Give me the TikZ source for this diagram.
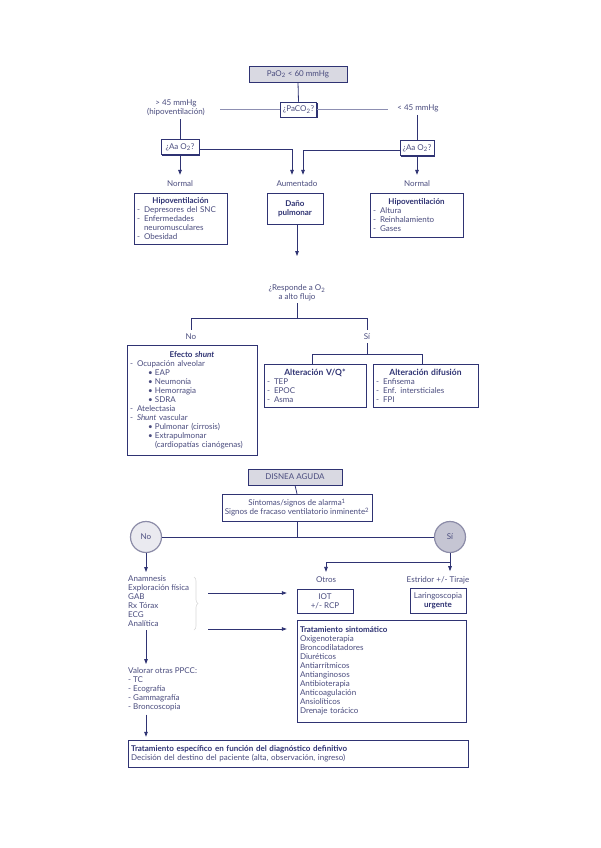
\documentclass[tikz,border=0pt]{standalone}
\usepackage{fontspec}
\setmainfont{Lato}
\usetikzlibrary{arrows.meta,shadows,decorations.pathreplacing}
\definecolor{navy}{HTML}{2F3373}
\definecolor{txt}{HTML}{4A4C7E}
\definecolor{boxgray}{HTML}{D9D9E2}
\definecolor{ring}{HTML}{8C8CA8}
\definecolor{circlight}{HTML}{EAEAF0}
\definecolor{circdark}{HTML}{C5C5D3}
\newcommand\hd[1]{{\bfseries\color{navy}#1}}
\newcommand\ctr[2]{\makebox[#1][c]{#2}}
\newcommand\di{\makebox[7pt][l]{-}}
\newcommand\dic{\hspace*{7pt}}
\newcommand\bu{\hspace*{18pt}\makebox[7pt][l]{\textbullet}}
\newcommand\buc{\hspace*{25pt}}
\begin{document}
\begin{tikzpicture}[x=1pt,y=-1pt,
  every node/.style={font=\fontsize{8}{9}\selectfont, text=txt, inner sep=0pt},
  box/.style={draw=navy, line width=0.5pt, fill=white, inner sep=3pt,
    drop shadow={shadow xshift=1.3pt, shadow yshift=-1.3pt, opacity=1, fill=navy}},
  ln/.style={draw=navy, line width=0.8pt},
  thin/.style={draw=navy!55, line width=0.5pt},
  arr/.style={ln, -{Triangle[length=5pt,width=3.6pt]}},
  circ/.style={circle, draw=ring, line width=1.2pt, minimum size=31pt}
]
\useasboundingbox (0,0) rectangle (600,848);
\fill[white] (0,0) rectangle (600,848);

% ---------- top algorithm ----------
\node[box, fill=boxgray, minimum width=98pt, minimum height=16pt] (pao2) at (298,74) {PaO\textsubscript{2} < 60 mmHg};
\node[box, minimum width=36pt, minimum height=15pt, inner sep=1pt] (paco2) at (298.5,109.5) {¿PaCO\textsubscript{2}?};
\node[align=center] (gt) at (176,108) {> 45 mmHg\\(hipoventilación)};
\node (lt) at (418,108) {< 45 mmHg};
\node[box, minimum width=38pt, minimum height=15pt, inner sep=1pt] (aaL) at (180,147) {¿Aa O\textsubscript{2}?};
\node[box, minimum width=34pt, minimum height=15pt, inner sep=1pt] (aaR) at (417,148) {¿Aa O\textsubscript{2}?};
\node (nL) at (180,184) {Normal};
\node (aum) at (297,184) {Aumentado};
\node (nR) at (417,184) {Normal};

\coordinate (hl) at (220,109.5);
\coordinate (hr) at (388,109.5);
\draw[ln] (pao2.south) -- (paco2.north);
\draw[thin] (paco2.west) -- (hl);
\draw[thin] (paco2.east) -- (hr);
\draw[ln, shorten <=3pt] (gt.south -| aaL.north) -- (aaL.north);
\draw[ln, shorten <=3pt] (lt.south -| aaR.north) -- (aaR.north);
\draw[arr, shorten >=6pt] (aaL.south) -- (nL.north);
\draw[arr, shorten >=6pt] ([yshift=-2pt]aaL.east) -| ([xshift=-5pt]aum.north);
\draw[arr, shorten >=6pt] ([yshift=-2pt]aaR.west) -| ([xshift=6pt]aum.north);
\draw[arr, shorten >=6pt] (aaR.south) -- (nR.north);

\node[box, text width=87pt, minimum height=51pt, align=left] (hipoL) at (180.5,218.5)
 {\ctr{87pt}{\hd{Hipoventilación}}\\
  \di Depresores del SNC\\
  \di Enfermedades\\
  \dic neuromusculares\\
  \di Obesidad};
\node[box, text width=50pt, minimum height=31pt, align=center] (dano) at (295,208.5)
 {\hd{Daño}\\\hd{pulmonar}};
\node[box, text width=87pt, minimum height=44pt, align=left] (hipoR) at (416.5,215)
 {\ctr{87pt}{\hd{Hipoventilación}}\\
  \di Altura\\
  \di Reinhalamiento\\
  \di Gases};

\coordinate (dEnd) at (297,256);
\draw[arr] (dano.south -| dEnd) -- (dEnd);

\node[align=center] (resp) at (297,293) {¿Responde a O\textsubscript{2}\\a alto flujo};
\node (noL) at (191,337) {No};
\node (siL) at (367,337) {Sí};
\coordinate (rj) at (297,318);
\draw[ln, shorten <=2pt] (resp.south) -- (rj);
\draw[ln, shorten <=4pt, shorten >=4pt] (noL.north) -- (noL.north |- rj) -- (siL.north |- rj) -- (siL.north);

\node[box, text width=124pt, minimum height=110pt, align=left] (shunt) at (192,400)
 {\ctr{124pt}{\hd{Efecto \itshape shunt}}\\
  \di Ocupación alveolar\\
  \bu EAP\\
  \bu Neumonía\\
  \bu Hemorragia\\
  \bu SDRA\\
  \di Atelectasia\\
  \di \textit{Shunt} vascular\\
  \bu Pulmonar (cirrosis)\\
  \bu Extrapulmonar\\
  \buc (cardiopatías cianógenas)};

\node[box, text width=96pt, minimum height=43pt, align=left] (vq) at (315,385.5)
 {\ctr{96pt}{\fontsize{8.5}{9}\selectfont\hd{Alteración V/Q*}}\\
  \di TEP\\
  \di EPOC\\
  \di Asma};
\node[box, text width=99pt, minimum height=43pt, align=left] (dif) at (425.5,385.5)
 {\ctr{99pt}{\fontsize{8.5}{9}\selectfont\hd{Alteración difusión}}\\
  \di Enfisema\\
  \di Enf. intersticiales\\
  \di FPI};

\coordinate (sj) at (367,354);
\draw[ln, shorten <=3pt] (siL.south) -- (sj);
\draw[ln] ([xshift=-3pt]vq.north) -- ([xshift=-3pt]vq.north |- sj) -- ([xshift=-3.5pt]dif.north |- sj) -- ([xshift=-3.5pt]dif.north);

% ---------- bottom algorithm ----------
\node[box, fill=boxgray, minimum width=94pt, minimum height=16pt] (disnea) at (295,477) {DISNEA AGUDA};
\node[box, minimum width=150pt, minimum height=27pt, inner sep=2pt, align=center] (sint) at (297,507.5)
 {Síntomas/signos de alarma\textsuperscript{1}\\Signos de fracaso ventilatorio inminente\textsuperscript{2}};
\node[circ, fill=circlight] (noC) at (146,537) {No};
\node[circ, fill=circdark] (siC) at (450,537) {Sí};
\draw[ln] (disnea.south) -- (sint.north);
\draw[ln] (sint.south) -- (sint.south |- noC.east);
\draw[ln] (noC.east) -- (siC.west);

\node[anchor=north west, align=left] (list) at (128,575)
 {Anamnesis\\Exploración física\\GAB\\Rx Tórax\\ECG\\Analítica};
\draw[gray!30, line width=0.6pt, decorate, decoration={brace, amplitude=4pt}] (194,577) -- (194,630);

\node (otros) at (326,580) {Otros};
\node (estr) at (438,580) {Estridor +/- Tiraje};
\node[box, minimum width=56pt, minimum height=24pt, inner sep=2pt, align=center] (iot) at (325,601) {IOT\\+/- RCP};
\node[box, minimum width=56pt, minimum height=25pt, inner sep=2pt, align=center] (laring) at (438,600.5) {Laringoscopia\\\hd{urgente}};
\node[box, text width=163pt, minimum height=102pt, align=left] (trat) at (381.5,671)
 {\hd{Tratamiento sintomático}\\
  Oxigenoterapia\\Broncodilatadores\\Diuréticos\\Antiarrítmicos\\Antianginosos\\Antibioterapia\\Anticoagulación\\Ansiolíticos\\Drenaje torácico};

\node[anchor=north west, align=left] (valorar) at (128,667)
 {Valorar otras PPCC:\\- TC\\- Ecografía\\- Gammagrafía\\- Broncoscopia};
\node[box, text width=334pt, minimum height=27pt, align=left] (final) at (298,753.5)
 {\hd{Tratamiento específico en función del diagnóstico definitivo}\\
  Decisión del destino del paciente (alta, observación, ingreso)};

\coordinate (sibr) at (450,562.5);
\coordinate (a1) at (208,593);
\coordinate (a2) at (208,629);
\draw[arr, shorten >=3pt] (noC.south) -- (noC.south |- list.north);
\draw[arr, shorten >=5pt] (siC.south) -- (siC.south |- estr.north);
\draw[arr, shorten >=5pt] (sibr) -| (otros.north);
\draw[arr, shorten >=10pt] (a1) -- (a1 -| iot.west);
\draw[arr, shorten >=10pt] (a2) -- (a2 -| trat.west);
\draw[arr, shorten <=4pt, shorten >=3pt] (noC.south |- list.south) -- (noC.south |- valorar.north);
\draw[arr, shorten <=4pt, shorten >=3pt] (noC.south |- valorar.south) -- (noC.south |- final.north);
\end{tikzpicture}
\end{document}
